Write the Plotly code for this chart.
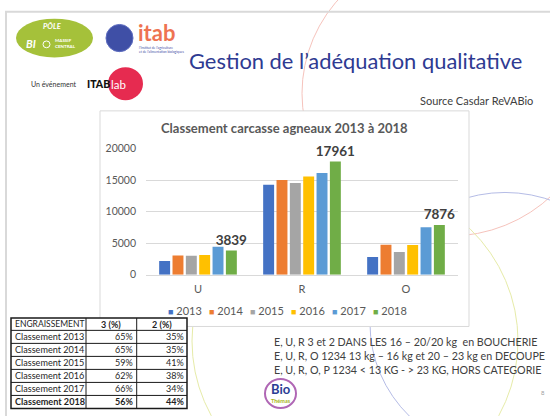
import plotly.graph_objects as go

W, H = 550, 416


def px(x):
    return x / W


def py(y):
    return 1 - y / H


# ---------------- data ----------------
categories = ["U", "R", "O"]
years = ["2013", "2014", "2015", "2016", "2017", "2018"]
values_2013 = [2170, 14300, 2830]
values_2014 = [3050, 15020, 4770]
values_2015 = [3030, 14560, 3620]
values_2016 = [3150, 15580, 4710]
values_2017 = [4450, 16150, 7540]
values_2018 = [3839, 17961, 7876]
series_values = [values_2013, values_2014, values_2015, values_2016, values_2017, values_2018]
series_colors = ["#4472C4", "#ED7D31", "#A5A5A5", "#FFC000", "#5B9BD5", "#70AD47"]
y_ticks = [0, 5000, 10000, 15000, 20000]

table_header = ["ENGRAISSEMENT", "3 (%)", "2 (%)"]
table_labels = ["Classement 2013", "Classement 2014", "Classement 2015",
                "Classement 2016", "Classement 2017", "Classement 2018"]
share_grade3 = ["65%", "65%", "59%", "62%", "66%", "56%"]
share_grade2 = ["35%", "35%", "41%", "38%", "34%", "44%"]

notes = [
    "E, U, R 3 et 2 DANS LES 16 – 20/20 kg  en BOUCHERIE",
    "E, U, R, O 1234 13 kg – 16 kg et 20 – 23 kg en DECOUPE",
    "E, U, R, O, P 1234 < 13 KG - > 23 KG, HORS CATEGORIE",
]

FONT = "Lato"
GREY = "#595959"

fig = go.Figure()

for name, vals, col in zip(years, series_values, series_colors):
    is_last = name == years[-1]
    fig.add_trace(go.Bar(
        x=categories, y=vals, name=name, marker=dict(color=col, line=dict(width=0)),
        text=[str(v) for v in vals] if is_last else None,
        textposition="outside" if is_last else "none",
        textfont=dict(family=FONT, size=13.5, color="#404040", weight=700),
        constraintext="none", cliponaxis=False, showlegend=False,
    ))

shapes = []
ann = []


def text(x, y, s, size, color, xanchor="left", weight=400, family=FONT, italic=False):
    ann.append(dict(x=px(x), y=py(y), xref="paper", yref="paper", text=s, showarrow=False,
                    xanchor=xanchor, yanchor="middle", align=xanchor if xanchor != "center" else "center",
                    font=dict(size=size, color=color, family=family, weight=weight,
                              style="italic" if italic else "normal")))


# decorative circles
shapes.append(dict(type="circle", xref="paper", yref="paper", layer="below",
                   x0=px(449 - 147), x1=px(449 + 147), y0=py(90 + 147), y1=py(90 - 147),
                   line=dict(color="#F6C3BC", width=1)))
shapes.append(dict(type="circle", xref="paper", yref="paper", layer="below",
                   x0=px(505 - 135), x1=px(505 + 135), y0=py(327 + 135), y1=py(327 - 135),
                   line=dict(color="#B5BCE6", width=1)))
shapes.append(dict(type="circle", xref="paper", yref="paper", layer="below",
                   x0=px(355 - 163), x1=px(355 + 163), y0=py(345 + 163), y1=py(345 - 163),
                   line=dict(color="#E6EBA8", width=1)))
# slide frame
shapes.append(dict(type="rect", xref="paper", yref="paper", layer="below",
                   x0=px(6), x1=px(600), y0=py(460), y1=py(6),
                   line=dict(color="#D9D9D9", width=2)))
# chart box
shapes.append(dict(type="rect", xref="paper", yref="paper", layer="below",
                   x0=px(100), x1=px(469), y0=py(330), y1=py(108),
                   fillcolor="white", line=dict(color="#D9D9D9", width=1)))

# ---------------- table (grid + cell texts from the lists) ----------------
col_edges = [11, 86, 136.7, 187]
row_edges = [321.3, 334] + [334 + 13.4 * (i + 1) for i in range(len(table_labels))]
shapes.append(dict(type="rect", xref="paper", yref="paper",
                   x0=px(col_edges[0]), x1=px(col_edges[-1]), y0=py(row_edges[-1]), y1=py(row_edges[0]),
                   fillcolor="white", line=dict(color="#1a1a1a", width=1.5)))
for xe in col_edges[1:-1]:
    shapes.append(dict(type="line", xref="paper", yref="paper",
                       x0=px(xe), x1=px(xe), y0=py(row_edges[-1]), y1=py(row_edges[0]),
                       line=dict(color="#1a1a1a", width=1)))
for ye in row_edges[1:-1]:
    shapes.append(dict(type="line", xref="paper", yref="paper",
                       x0=px(col_edges[0]), x1=px(col_edges[-1]), y0=py(ye), y1=py(ye),
                       line=dict(color="#1a1a1a", width=1)))
TC = "#1f1f1f"
hy = (row_edges[0] + row_edges[1]) / 2
text(col_edges[0] + 1.5, hy, table_header[0], 8.5, TC, "left")
text((col_edges[1] + col_edges[2]) / 2, hy, f"<b>{table_header[1]}</b>", 9, TC, "center")
text((col_edges[2] + col_edges[3]) / 2, hy, f"<b>{table_header[2]}</b>", 9, TC, "center")
for i, (lab, a, b) in enumerate(zip(table_labels, share_grade3, share_grade2)):
    cy = (row_edges[i + 1] + row_edges[i + 2]) / 2
    last = i == len(table_labels) - 1
    wrap = (lambda s: f"<b>{s}</b>") if last else (lambda s: s)
    text(col_edges[0] + 1.5, cy, wrap(lab), 9.1, TC, "left")
    text(col_edges[2] - 1.5, cy, wrap(a), 9, TC, "right")
    text(col_edges[3] - 1.5, cy, wrap(b), 9, TC, "right")

# logos
shapes.append(dict(type="circle", xref="paper", yref="paper",
                   x0=px(16), x1=px(93), y0=py(53), y1=py(13),
                   fillcolor="#A5C13A", line=dict(width=0)))
shapes.append(dict(type="circle", xref="paper", yref="paper",
                   x0=px(43), x1=px(50), y0=py(43), y1=py(36),
                   line=dict(color="white", width=1)))
shapes.append(dict(type="circle", xref="paper", yref="paper",
                   x0=px(106), x1=px(133), y0=py(47), y1=py(19),
                   fillcolor="#3F4FA6", line=dict(color="#5D6CC0", width=1)))
shapes.append(dict(type="circle", xref="paper", yref="paper",
                   x0=px(108), x1=px(143), y0=py(97), y1=py(63),
                   fillcolor="#E62B50", line=dict(width=0)))
shapes.append(dict(type="circle", xref="paper", yref="paper",
                   x0=px(265), x1=px(296), y0=py(414), y1=py(384),
                   fillcolor="white", line=dict(color="#B067B5", width=2)))

text(355.5, 56, "Gestion de l’adéquation qualitative", 21.9, "#2E3A92", "center", 400)
text(535, 97.5, "Source Casdar ReVABio", 11, "#404040", "right")
text(284.5, 126, "Classement carcasse agneaux 2013 à 2018", 13, GREY, "center", 700)
for k, line in enumerate(notes):
    text(272, 345.3 + 14.7 * k, line, 10.7, "#404040", "left")
text(543, 398, "8", 6, "#A0A0A0", "center")

# logo texts
text(52, 21, "PÔLE", 7.5, "white", "center", 700, italic=True)
text(31, 39, "BI", 11, "white", "center", 700, italic=True)
text(53, 39, "MASSIF<br>CENTRAL", 4.5, "white", "left", 700)
text(136, 27, "itab", 22, "#EE7352", "left", 700)
text(137, 45, "l’Institut de l’agriculture<br>et de l’alimentation biologiques", 3.3, "#3F4FA6", "left")
text(29, 80, "Un événement", 7, "#333333", "left")
text(85, 80, "ITAB", 10.5, "#111111", "left", 900)
text(109, 81, "lab", 11.5, "white", "left", 400)
text(281, 394, "Bio", 13, "#2B3D94", "center", 700)
text(281, 407, "Thémas", 5.5, "#A8B51A", "center", 700)

# legend (one entry per series)
for i, (name, col) in enumerate(zip(years, series_colors)):
    ann.append(dict(x=px(166 + 41 * i), y=py(314), xref="paper", yref="paper", showarrow=False,
                    xanchor="left", yanchor="middle",
                    text=f"<span style='color:{col};font-size:9px'>■</span> {name}",
                    font=dict(family=FONT, size=11, color=GREY)))

fig.update_layout(
    width=W, height=H, margin=dict(l=0, r=0, t=0, b=0),
    paper_bgcolor="white", plot_bgcolor="rgba(0,0,0,0)",
    font=dict(family=FONT, color=GREY),
    barmode="group", bargap=0.23, bargroupgap=0.18,
    showlegend=False, shapes=shapes, annotations=ann,
    xaxis=dict(domain=[px(146), px(458)], showgrid=False, showline=True, linecolor="#D9D9D9",
               ticks="", tickfont=dict(family=FONT, size=11, color=GREY), ticklabelstandoff=4,
               zeroline=False, fixedrange=True),
    yaxis=dict(domain=[py(276.7), py(147)], range=[0, 20000], tickvals=y_ticks, tickformat="d",
               showgrid=True, gridcolor="#D9D9D9", gridwidth=1, zeroline=False, showline=False,
               ticks="", tickfont=dict(family=FONT, size=10.5, color=GREY), ticklabelstandoff=9,
               fixedrange=True),
)

fig.write_html("out.html")
